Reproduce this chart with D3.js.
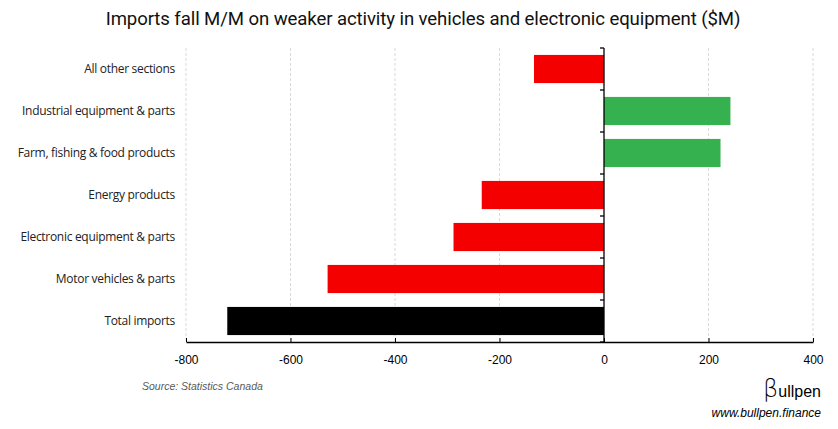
<!DOCTYPE html>
<html>
<head>
<meta charset="utf-8">
<script src="https://cdn.jsdelivr.net/npm/d3@7"></script>
<style>
  body { margin: 0; background: #fff; }
</style>
</head>
<body>
<script>
// Width and height
var w = 838;
var h = 429;

// data
var categories = [
  "All other sections",
  "Industrial equipment & parts",
  "Farm, fishing & food products",
  "Energy products",
  "Electronic equipment & parts",
  "Motor vehicles & parts",
  "Total imports"
];
var values = [-134, 242, 223, -234, -288, -529, -721];
var barColors = ["#f50000", "#36b150", "#36b150", "#f50000", "#f50000", "#f50000", "#000000"];
var xTicks = [-800, -600, -400, -200, 0, 200, 400];

var margin = { top: 48, right: 25, bottom: 87, left: 186 };

var svg = d3.select("body").append("svg").attr("width", w).attr("height", h);

svg.append("rect").attr("width", w).attr("height", h).attr("fill", "white");

var x = d3.scaleLinear().domain([-800, 400]).range([margin.left, 813]);
var y = d3.scaleBand().domain(categories).range([margin.top, h - margin.bottom]).paddingInner(0.33).paddingOuter(0.165);

// gridlines
svg.selectAll(".grid")
  .data(xTicks.filter(function (d) { return d != 0; }))
  .enter()
  .append("line")
  .attr("x1", function (d) { return x(d); })
  .attr("x2", function (d) { return x(d); })
  .attr("y1", margin.top)
  .attr("y2", h - margin.bottom)
  .style("stroke", "#d9d9d9")
  .style("stroke-width", 1)
  .style("stroke-dasharray", "3,2");

// bars
svg.selectAll(".bar")
  .data(values)
  .enter()
  .append("rect")
  .attr("x", function (d) { return x(Math.min(0, d)); })
  .attr("y", function (d, i) { return y(categories[i]); })
  .attr("width", function (d) { return Math.abs(x(d) - x(0)); })
  .attr("height", y.bandwidth())
  .style("fill", function (d, i) { return barColors[i]; });

// x axis
var xAxis = svg.append("g")
  .attr("transform", "translate(0," + (h - margin.bottom) + ")")
  .call(d3.axisBottom(x).tickValues(xTicks).tickSize(4).tickSizeOuter(0)
    .tickFormat(function (d) { return String(d); }));
xAxis.select(".domain").style("stroke", "black").style("stroke-width", 1.3);
xAxis.selectAll(".tick line").style("stroke", "black").attr("y1", -4).attr("y2", 0);
xAxis.selectAll("text")
  .style("font-family", "Liberation Sans, Arial, sans-serif")
  .style("font-size", "12px")
  .style("fill", "black")
  .attr("dy", "1.25em");

// zero axis with ticks between categories
var step = y.step();
var bounds = d3.range(categories.length + 1).map(function (i) { return margin.top + i * step; });
svg.append("line")
  .attr("x1", x(0)).attr("x2", x(0))
  .attr("y1", margin.top).attr("y2", h - margin.bottom)
  .style("stroke", "black").style("stroke-width", 1.3);
svg.selectAll(".ytick")
  .data(bounds)
  .enter()
  .append("line")
  .attr("x1", x(0) - 4).attr("x2", x(0))
  .attr("y1", function (d) { return d; })
  .attr("y2", function (d) { return d; })
  .style("stroke", "black").style("stroke-width", 1.3);

// category labels
svg.selectAll(".cat")
  .data(categories)
  .enter()
  .append("text")
  .attr("x", 175)
  .attr("y", function (d) { return y(d) + y.bandwidth() / 2; })
  .attr("dy", "0.35em")
  .attr("text-anchor", "end")
  .style("font-family", "Open Sans, sans-serif")
  .style("font-size", "12px")
  .style("letter-spacing", "-0.3px")
  .style("fill", "#222")
  .text(function (d) { return d; });

// title
svg.append("text")
  .attr("x", 423)
  .attr("y", 24.5)
  .attr("text-anchor", "middle")
  .style("font-family", "Roboto, sans-serif")
  .style("font-size", "18.6px")
  .style("letter-spacing", "-0.1px")
  .style("fill", "#111")
  .text("Imports fall M/M on weaker activity in vehicles and electronic equipment ($M)");

// source
svg.append("text")
  .attr("x", 142)
  .attr("y", 390)
  .style("font-family", "Liberation Sans, Arial, sans-serif")
  .style("font-style", "italic")
  .style("font-size", "10.5px")
  .style("fill", "#595959")
  .text("Source: Statistics Canada");

// logo
svg.append("text")
  .attr("x", 821)
  .attr("y", 397)
  .attr("text-anchor", "end")
  .style("font-family", "Liberation Sans, Arial, sans-serif")
  .style("font-size", "16px")
  .style("fill", "black")
  .html('<tspan style="font-size:24px;font-family:DejaVu Sans;font-weight:200">β</tspan>ullpen');

svg.append("text")
  .attr("x", 821)
  .attr("y", 417)
  .attr("text-anchor", "end")
  .style("font-family", "Liberation Sans, Arial, sans-serif")
  .style("font-style", "italic")
  .style("font-size", "12px")
  .style("fill", "black")
  .text("www.bullpen.finance");
</script>
</body>
</html>
